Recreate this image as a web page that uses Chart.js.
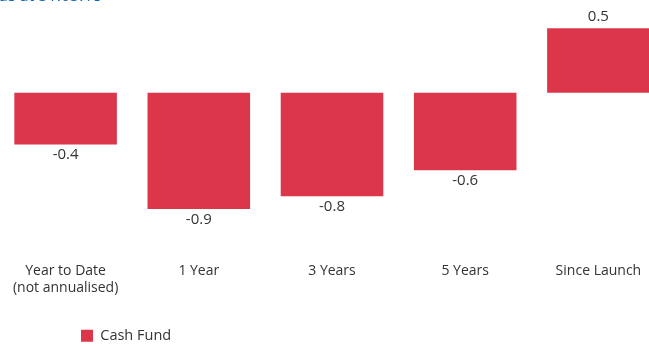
<!DOCTYPE html>
<html>
<head>
<meta charset="utf-8">
<script src="https://cdn.jsdelivr.net/npm/chart.js@4/dist/chart.umd.min.js"></script>
<style>
  html, body { margin: 0; padding: 0; background: #fff; overflow: hidden; }
  #wrap { position: absolute; left: -1px; top: -13px; width: 666px; height: 366px; }
</style>
</head>
<body>
<div id="wrap"><canvas id="chart"></canvas></div>
<script>
const periods = [["Year to Date", "(not annualised)"], "1 Year", "3 Years", "5 Years", "Since Launch"];
const cashFund = [-0.4, -0.9, -0.8, -0.6, 0.5];
const seriesName = "Cash Fund";
const asAt = "as at 31.03.18";

const barColor = "#dc364a";
const textColor = "#333333";
const fontFamily = "'Open Sans', 'Noto Sans', sans-serif";

// value labels under / above each bar
const valueLabels = {
  id: "valueLabels",
  afterDatasetsDraw(chart) {
    const ctx = chart.ctx;
    const meta = chart.getDatasetMeta(0);
    ctx.save();
    ctx.fillStyle = textColor;
    ctx.font = "15px " + fontFamily;
    ctx.textAlign = "center";
    meta.data.forEach((bar, i) => {
      const v = cashFund[i];
      const txt = v.toFixed(1);
      if (v < 0) {
        ctx.textBaseline = "top";
        ctx.fillText(txt, bar.x, bar.y + 3);
      } else {
        ctx.textBaseline = "alphabetic";
        ctx.fillText(txt, bar.x, bar.y - 7);
      }
    });
    ctx.restore();
  },
};

// push the legend towards the left like the original
const legendShift = {
  id: "legendShift",
  afterLayout(chart) {
    chart.legend.left += 57;
    chart.legend.right += 57;
  },
};

new Chart(document.getElementById("chart"), {
  type: "bar",
  data: {
    labels: periods,
    datasets: [
      {
        label: seriesName,
        data: cashFund,
        backgroundColor: barColor,
        borderWidth: 0,
        categoryPercentage: 1,
        barPercentage: 0.77,
      },
    ],
  },
  options: {
    responsive: true,
    maintainAspectRatio: false,
    animation: false,
    layout: { padding: 0 },
    plugins: {
      title: {
        display: true,
        text: asAt,
        align: "start",
        color: "#0a64b4",
        font: { family: fontFamily, size: 16, weight: "normal" },
        padding: { top: 0, bottom: 9 },
      },
      legend: {
        position: "bottom",
        align: "start",
        labels: {
          boxWidth: 12,
          boxHeight: 12,
          padding: 25,
          color: textColor,
          font: { family: fontFamily, size: 14.5 },
        },
      },
      tooltip: { enabled: false },
    },
    scales: {
      x: {
        grid: { display: false },
        border: { display: false },
        ticks: {
          padding: 7,
          color: textColor,
          font: { family: fontFamily, size: 14 },
          maxRotation: 0,
          autoSkip: false,
        },
      },
      y: {
        display: false,
        min: -1.2,
        max: 0.6,
      },
    },
  },
  plugins: [valueLabels, legendShift],
});
</script>
</body>
</html>
